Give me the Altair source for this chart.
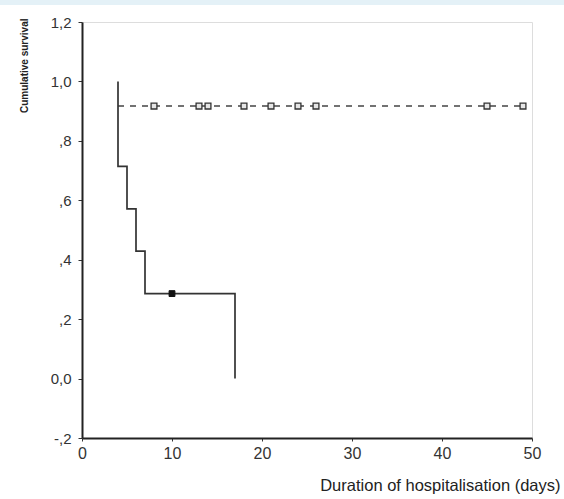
import altair as alt
import pandas as pd

# Group 1 (solid line): event times and survival after each step
g1_times = [4, 5, 6, 7, 17]
g1_surv = [0.714, 0.571, 0.429, 0.286, 0.0]
g1_start = 1.0
g1_censor_t = [10]
g1_censor_s = [0.286]

# Group 2 (dashed line): constant level with censored cases
g2_level = 0.917
g2_start = 4
g2_end = 49
g2_censor_t = [8, 13, 14, 18, 21, 24, 26, 45, 49]

y_ticks = [-0.2, 0.0, 0.2, 0.4, 0.6, 0.8, 1.0, 1.2]
y_tick_labels = ["-,2", "0,0", ",2", ",4", ",6", ",8", "1,0", "1,2"]
x_ticks = [0, 10, 20, 30, 40, 50]

# build step vertices for group 1
rows = []
level = g1_start
for t, s in zip(g1_times, g1_surv):
    rows.append({"t": t, "s": level})
    rows.append({"t": t, "s": s})
    level = s
for i, r in enumerate(rows):
    r["o"] = i
g1_df = pd.DataFrame(rows)
g1_c_df = pd.DataFrame({"t": g1_censor_t, "s": g1_censor_s})
g2_df = pd.DataFrame({"t": [g2_start, g2_end], "s": [g2_level, g2_level], "o": [0, 1]})
g2_c_df = pd.DataFrame({"t": g2_censor_t, "s": [g2_level] * len(g2_censor_t)})

label_expr = ""
for v, l in zip(y_ticks, y_tick_labels):
    label_expr += f"abs(datum.value - ({v})) < 0.001 ? '{l}' : "
label_expr += "''"

FONT = "Liberation Sans"
INK = "#333333"

xscale = alt.Scale(domain=[0, 50], nice=False, zero=False)
yscale = alt.Scale(domain=[-0.2, 1.2], nice=False, zero=False)

x_axis = alt.Axis(
    values=x_ticks, format="d", grid=False, tickSize=3, labelPadding=4,
    labelFlush=False, labelOverlap=False,
    labelFont=FONT, labelFontSize=16, labelColor=INK,
    domainColor="#222222", tickColor=INK, domainWidth=2,
    title="Duration of hospitalisation (days)", titleFont=FONT, titleFontSize=16.5,
    titleFontWeight="normal", titleColor="#222222", titleAlign="right",
    titleAnchor="end", titleX=478, titleY=47, titleBaseline="middle",
)
y_axis = alt.Axis(
    values=y_ticks, labelExpr=label_expr, grid=False, tickSize=4, labelPadding=7,
    labelFlush=False, labelOverlap=False,
    labelFont=FONT, labelFontSize=15, labelColor=INK,
    domainColor="#222222", tickColor=INK, domainWidth=2,
    title="Cumulative survival", titleFont=FONT, titleFontSize=10,
    titleFontWeight="bold", titleColor="#222222", titleAngle=-90, titleAlign="right",
    titleX=-58, titleY=-4, titleBaseline="middle",
)

base_x = alt.X("t:Q", scale=xscale, axis=x_axis)
base_y = alt.Y("s:Q", scale=yscale, axis=y_axis)

line1 = alt.Chart(g1_df).mark_line(color=INK, strokeWidth=1.7).encode(
    x=base_x, y=base_y, order="o:Q"
)
line2 = alt.Chart(g2_df).mark_line(color="#444444", strokeWidth=1.5, strokeDash=[6, 6]).encode(
    x=alt.X("t:Q", scale=xscale), y=alt.Y("s:Q", scale=yscale), order="o:Q"
)
cens2 = alt.Chart(g2_c_df).mark_point(
    shape="square", size=34, filled=True, fill="#e6e6e6", stroke=INK, strokeWidth=1.3, opacity=1
).encode(x=alt.X("t:Q", scale=xscale), y=alt.Y("s:Q", scale=yscale))
cens1 = alt.Chart(g1_c_df).mark_point(
    shape="square", size=34, filled=True, fill="#111111", stroke="#111111", strokeWidth=1, opacity=1
).encode(x=alt.X("t:Q", scale=xscale), y=alt.Y("s:Q", scale=yscale))

band = alt.Chart(pd.DataFrame({"a": [0]})).mark_rect(color="#e4f1f7").encode(
    x=alt.value(-82), x2=alt.value(482), y=alt.value(-22), y2=alt.value(-17)
)

chart = alt.layer(band, line2, line1, cens2, cens1).properties(
    width=450, height=416,
    autosize=alt.AutoSizeParams(type="none"),
    padding={"left": 82, "top": 22, "right": 32, "bottom": 61},
).configure_view(stroke="#222222", strokeWidth=2).configure(background="white")

chart.save("out.html", embed_options={"renderer": "svg", "actions": False})
